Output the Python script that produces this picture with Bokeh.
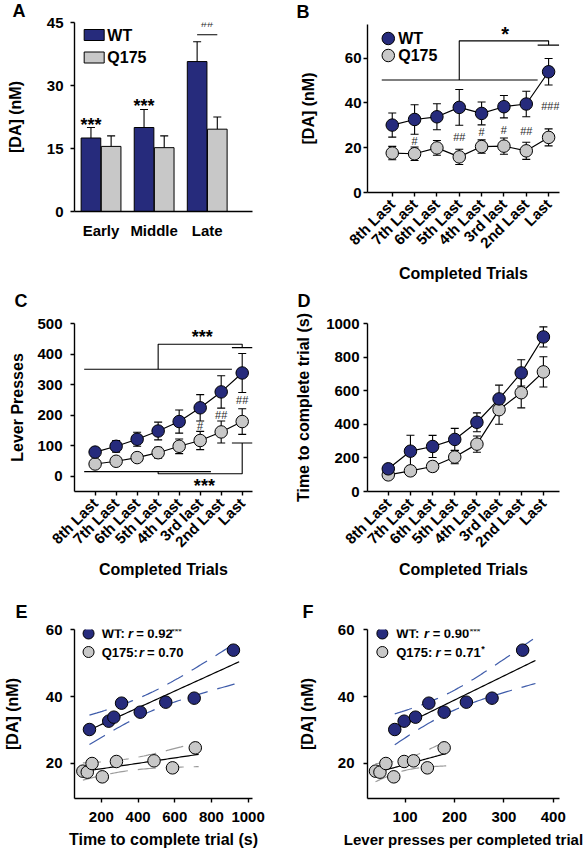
import numpy as np
from bokeh.plotting import figure
from bokeh.models import ColumnDataSource, Whisker, TeeHead, Label, FixedTicker, Range1d, Title
from bokeh.layouts import column, row
from bokeh.embed import file_html
from bokeh.resources import INLINE

FONT = "Liberation Sans"
NAVY = "#262b7c"
LIGHT = "#c8c8c8"
BAND_WT = "#3f5caa"
BAND_Q = "#9c9c9c"
MARK = "#2a2a2a"

# ---------------- data ----------------
periods = ["Early", "Middle", "Late"]
a_wt = [17.5, 20.0, 35.7]
a_wt_sem = [2.5, 4.3, 4.7]
a_q175 = [15.5, 15.2, 19.6]
a_q175_sem = [2.5, 2.8, 2.9]

trials = ["8th Last", "7th Last", "6th Last", "5th Last", "4th Last", "3rd last", "2nd Last", "Last"]

da_wt = [30.1, 32.6, 33.8, 38.0, 35.3, 38.3, 39.5, 53.9]
da_wt_sem = [5.4, 6.6, 5.8, 8.0, 5.1, 5.0, 5.7, 5.9]
da_q175 = [17.6, 17.3, 19.9, 15.9, 20.5, 20.7, 18.6, 24.6]
da_q175_sem = [3.0, 3.0, 3.3, 3.4, 3.0, 3.6, 3.8, 3.8]

lever_wt = [79, 98, 121, 148, 179, 224, 276, 338]
lever_wt_sem = [15, 19, 23, 29, 38, 43, 53, 64]
lever_q175 = [40, 49, 61, 77, 98, 117, 145, 179]
lever_q175_sem = [10, 12, 13, 18, 24, 30, 36, 42]

time_wt = [135, 240, 268, 310, 412, 551, 706, 920]
time_wt_sem = [20, 95, 66, 66, 56, 82, 78, 60]
time_q175 = [99, 123, 149, 205, 282, 487, 588, 712]
time_q175_sem = [15, 25, 30, 40, 48, 87, 90, 90]

b_marks = ["", "#", "", "##", "#", "#", "##", "###"]
c_marks = ["", "", "", "", "", "#", "##", "##"]

e_stats = [("WT:", "0.92", "***"), ("Q175:", "0.70", "")]
f_stats = [("WT:", "0.90", "***"), ("Q175:", "0.71", "*")]

# ---------------- layout helpers ----------------
CW = {"W": .944, "T": .611, ":": .333, " ": .278, "Q": .778, ".": .278,
      "=": .584, "r": .389, "*": .389}


def tw(s, size):
    return sum(CW.get(c, .556) for c in s) * size


class Panel:
    def __init__(self, w, h, bl, bt, fw, fh, xr, yr):
        self.fw, self.fh, self.xr, self.yr = fw, fh, xr, yr
        p = figure(width=w, height=h, x_range=Range1d(*xr), y_range=Range1d(*yr),
                   min_border_left=bl, min_border_right=w - bl - fw,
                   min_border_top=bt, min_border_bottom=h - bt - fh,
                   output_backend="svg", toolbar_location=None, title_location=None)
        p.outline_line_color = None
        p.xgrid.visible = False
        p.ygrid.visible = False
        p.background_fill_color = "white"
        p.border_fill_color = "white"
        for ax in (p.xaxis[0], p.yaxis[0]):
            ax.axis_line_width = 1.4
            ax.axis_line_color = "black"
            ax.major_tick_line_width = 1.4
            ax.major_tick_line_color = "black"
            ax.major_tick_in = 0
            ax.major_tick_out = 4
            ax.minor_tick_line_color = None
            ax.major_label_text_font = FONT
            ax.major_label_text_font_style = "bold"
            ax.major_label_text_font_size = "15px"
            ax.major_label_text_color = "black"
            ax.axis_label_text_font = FONT
            ax.axis_label_text_font_style = "bold"
            ax.axis_label_text_font_size = "16px"
            ax.axis_label_text_color = "black"
        self.p = p

    def xu(self):
        return (self.xr[1] - self.xr[0]) / self.fw

    def yu(self):
        return (self.yr[1] - self.yr[0]) / self.fh

    def at(self, dx, dy):
        return self.xr[0] + dx * self.xu(), self.yr[1] - dy * self.yu()

    def label(self, x, y, text, size=15, style="bold", align="center",
              baseline="middle", color="black", sx=0, sy=0):
        self.p.add_layout(Label(x=x + sx * self.xu(), y=y - sy * self.yu(), text=text,
                                text_font=FONT, text_font_size=f"{size}px",
                                text_font_style=style, text_align=align,
                                text_baseline=baseline, text_color=color))

    def stars(self, x, y, text, size=18):
        # y is the visual centre of the asterisks
        self.label(x, y, text, size=size, sy=0.2 * size)

    def plabel(self, dx, dy, text, **kw):
        x, y = self.at(dx, dy)
        self.label(x, y, text, **kw)

    def letter(self, text, offset, standoff=0, spacer=0):
        if spacer:
            self.p.add_layout(Title(text=" ", text_font=FONT, text_font_size=f"{spacer}px",
                                    standoff=0), "above")
        self.p.add_layout(Title(text=text, align="left", offset=offset, vertical_align="top",
                                standoff=standoff, text_font=FONT, text_font_style="bold",
                                text_font_size="18px", text_color="black"), "above")


def ticks(ax, vals, overrides=None):
    ax.ticker = FixedTicker(ticks=vals)
    if overrides:
        ax.major_label_overrides = overrides


def err_series(P, xs, ys, es, both=True):
    lo = [v - e for v, e in zip(ys, es)]
    hi = [v + e for v, e in zip(ys, es)]
    src = ColumnDataSource(dict(x=xs, y=ys, lo=lo if both else ys, hi=hi))
    P.p.add_layout(Whisker(source=src, base="x", lower="lo", upper="hi",
                           line_color="black", line_width=1.1,
                           upper_head=TeeHead(size=8, line_color="black", line_width=1.1),
                           lower_head=TeeHead(size=8, line_color="black", line_width=1.1) if both else None))
    return src


def line_panel(P, wt, wt_e, q, q_e):
    xs = list(range(len(wt)))
    s1 = err_series(P, xs, wt, wt_e)
    s2 = err_series(P, xs, q, q_e)
    for s in (s1, s2):
        P.p.line("x", "y", source=s, line_color="black", line_width=1.2)
    for s, c in ((s2, LIGHT), (s1, NAVY)):
        P.p.scatter("x", "y", source=s, size=12.5, fill_color=c, line_color="black", line_width=1)


def bracket(P, segs):
    for xs, ys in segs:
        P.p.line(xs, ys, line_color="black", line_width=1.1)


def fit_band(P, x, y, band_color, ext):
    x = np.asarray(x, float)
    y = np.asarray(y, float)
    n = len(x)
    b, a = np.polyfit(x, y, 1)
    s = np.sqrt(np.sum((y - (a + b * x)) ** 2) / (n - 2))
    sxx = np.sum((x - x.mean()) ** 2)
    xx = np.linspace(x.min(), x.max() + ext * (x.max() - x.min()), 60)
    yy = a + b * xx
    hw = 2.447 * s * np.sqrt(1.0 / n + (xx - x.mean()) ** 2 / sxx)
    P.p.line(xx, yy + hw, line_color=band_color, line_width=1.2, line_dash="18 10")
    P.p.line(xx, yy - hw, line_color=band_color, line_width=1.2, line_dash="18 10")
    P.p.line(xx, yy, line_color="black", line_width=1.2)


def rot_axis(P, standoff):
    ax = P.p.xaxis[0]
    ticks(ax, list(range(len(trials))), {i: t for i, t in enumerate(trials)})
    ax.major_label_orientation = np.pi / 4
    ax.major_label_text_font_size = "15px"
    ax.axis_label = "Completed Trials"
    ax.axis_label_standoff = standoff


# ---------------- Panel A ----------------
A = Panel(292, 290, 62, 22, 190, 189, (-0.5, 2.853), (0, 45))
pa = A.p
gx = np.arange(len(periods))
pa.vbar(x=gx - 0.19, width=0.37, top=a_wt, fill_color=NAVY, line_color="black", line_width=1)
pa.vbar(x=gx + 0.19, width=0.37, top=a_q175, fill_color=LIGHT, line_color="black", line_width=1)
err_series(A, list(gx - 0.19), a_wt, a_wt_sem, both=False)
err_series(A, list(gx + 0.19), a_q175, a_q175_sem, both=False)
ticks(pa.yaxis[0], [0, 15, 30, 45])
ticks(pa.xaxis[0], [0, 1, 2], {i: t for i, t in enumerate(periods)})
pa.xaxis[0].major_tick_out = 0
pa.xaxis[0].major_tick_line_color = None
pa.xaxis[0].major_label_standoff = 10
pa.yaxis[0].major_label_standoff = 7
pa.yaxis[0].axis_label = "[DA] (nM)"
pa.yaxis[0].axis_label_standoff = 20
A.stars(0 - 0.19, 21.5, "***")
A.stars(1 - 0.19, 26.0, "***")
pa.line([2 - 0.19, 2 + 0.19], [42.1, 42.1], line_color="black", line_width=1.1)
A.label(2, 44.8, "##", size=11, style="normal", color=MARK)
for k, (name, col) in enumerate((("WT", NAVY), ("Q175", LIGHT))):
    x, y = A.at(21, 12.5 + 22.5 * k)
    pa.rect([x], [y], width=20, height=11, width_units="screen", height_units="screen",
            fill_color=col, line_color="black", line_width=1)
    A.plabel(35, 12.5 + 22.5 * k, name, size=16, align="left")
A.letter("A", -62, standoff=0)

# ---------------- Panel B ----------------
B = Panel(292, 290, 73, 24, 194, 168, (-1.108, 7.488), (0, 75))
pb = B.p
line_panel(B, da_wt, da_wt_sem, da_q175, da_q175_sem)
ticks(pb.yaxis[0], [0, 20, 40, 60])
pb.yaxis[0].major_label_standoff = 2
pb.yaxis[0].axis_label = "[DA] (nM)"
pb.yaxis[0].axis_label_standoff = 25
rot_axis(B, 5)
bracket(B, [([-0.47, 6.51], [50.2, 50.2]), ([3, 3, 7, 7], [50.2, 67.7, 67.7, 65.8]),
            ([6.51, 7.47], [65.8, 65.8])])
B.stars(5.05, 72.6, "*", size=20)
b_mark_y = [0, 23.2, 0, 24.7, 26.9, 27.7, 27.4, 38.8]
for i, m in enumerate(b_marks):
    if m:
        B.label(i + (0.08 if i == 7 else 0), b_mark_y[i], m, size=11, style="normal", color=MARK)
for k, (name, col) in enumerate((("WT", NAVY), ("Q175", LIGHT))):
    x, y = B.at(21, 14 + 17 * k)
    pb.scatter([x], [y], size=12.5, fill_color=col, line_color="black", line_width=1)
    B.plabel(31, 14 + 17 * k, name, size=16, align="left")
B.letter("B", -71, standoff=2)

# ---------------- Panel C ----------------
C = Panel(292, 291, 62, 33, 190, 168, (-0.981, 7.49), (-50, 500))
pc = C.p
line_panel(C, lever_wt, lever_wt_sem, lever_q175, lever_q175_sem)
ticks(pc.yaxis[0], [0, 100, 200, 300, 400, 500])
pc.yaxis[0].major_label_standoff = 8
pc.yaxis[0].axis_label = "Lever Presses"
pc.yaxis[0].axis_label_standoff = 8
rot_axis(C, 2)
bracket(C, [([-0.52, 6.51], [350, 350]), ([3, 3, 7, 7], [350, 432, 432, 421]),
            ([6.51, 7.49], [421, 421]),
            ([-0.52, 5.51], [15, 15]), ([3, 3, 7, 7], [15, 8, 8, 109]),
            ([6.51, 7.49], [109, 109])])
C.stars(5.1, 466, "***")
C.stars(5.2, -19.6, "***")
c_mark_y = [0, 0, 0, 0, 0, 163, 199, 248]
for i, m in enumerate(c_marks):
    if m:
        C.label(i, c_mark_y[i], m, size=11, style="normal", color=MARK)
C.letter("C", -60, spacer=8)

# ---------------- Panel D ----------------
D = Panel(292, 291, 73, 33, 194, 168, (-0.938, 7.727), (0, 1000))
pd_ = D.p
line_panel(D, time_wt, time_wt_sem, time_q175, time_q175_sem)
ticks(pd_.yaxis[0], [0, 200, 400, 600, 800, 1000])
pd_.yaxis[0].major_label_standoff = 4
pd_.yaxis[0].axis_label = "Time to complete trial (s)"
pd_.yaxis[0].axis_label_standoff = 11
rot_axis(D, 2)
D.letter("D", -70, spacer=8)


# ---------------- Panels E, F ----------------
def scatter_panel(P, xw, xq, stats, ext_wt):
    p = P.p
    fit_band(P, xw, da_wt, BAND_WT, ext_wt)
    fit_band(P, xq, da_q175, BAND_Q, 0.03)
    p.scatter(xq, da_q175, size=12.5, fill_color=LIGHT, line_color="black", line_width=1)
    p.scatter(xw, da_wt, size=12.5, fill_color=NAVY, line_color="black", line_width=1)
    ticks(p.yaxis[0], [20, 40, 60])
    p.yaxis[0].axis_label = "[DA] (nM)"
    p.yaxis[0].major_label_standoff = 8
    p.xaxis[0].major_label_standoff = 9
    p.xaxis[0].axis_label_standoff = 6
    for k, ((name, rv, star), col) in enumerate(zip(stats, (NAVY, LIGHT))):
        dy = 4 + 18.5 * k
        x, y = P.at(15, dy)
        p.scatter([x], [y], size=11, fill_color=col, line_color="black", line_width=1)
        fs = 13
        d0 = 29
        P.plabel(d0, dy, name, size=fs, align="left")
        d1 = d0 + tw(name + " ", fs)
        P.plabel(d1, dy, "r", size=fs, style="bold italic", align="left")
        d2 = d1 + tw("r ", fs)
        P.plabel(d2, dy, "= " + rv, size=fs, align="left")
        if star:
            d3 = d2 + tw("= " + rv, fs)
            P.plabel(d3 + 1, dy - 3, star, size=9, align="left")


E = Panel(292, 272, 62, 48, 190, 169, (53.4, 1024), (9.4, 60.1))
scatter_panel(E, time_wt, time_q175, e_stats, 0.04)
ticks(E.p.xaxis[0], [200, 400, 600, 800, 1000])
E.p.xaxis[0].axis_label = "Time to complete trial (s)"
E.p.yaxis[0].axis_label_standoff = 22
E.letter("E", -59, standoff=11)

F = Panel(292, 272, 73, 48, 194, 169, (23.8, 412.6), (9.4, 60.1))
scatter_panel(F, lever_wt, lever_q175, f_stats, 0.1)
ticks(F.p.xaxis[0], [100, 200, 300, 400])
F.p.xaxis[0].axis_label = "Lever presses per completed trial"
F.p.xaxis[0].axis_label_text_font_size = "15px"
F.p.yaxis[0].major_label_standoff = 9
F.p.yaxis[0].axis_label_standoff = 19
F.letter("F", -65, standoff=11)

layout = row(column(A.p, C.p, E.p), column(B.p, D.p, F.p))
open("out.html", "w").write(file_html(layout, INLINE))
